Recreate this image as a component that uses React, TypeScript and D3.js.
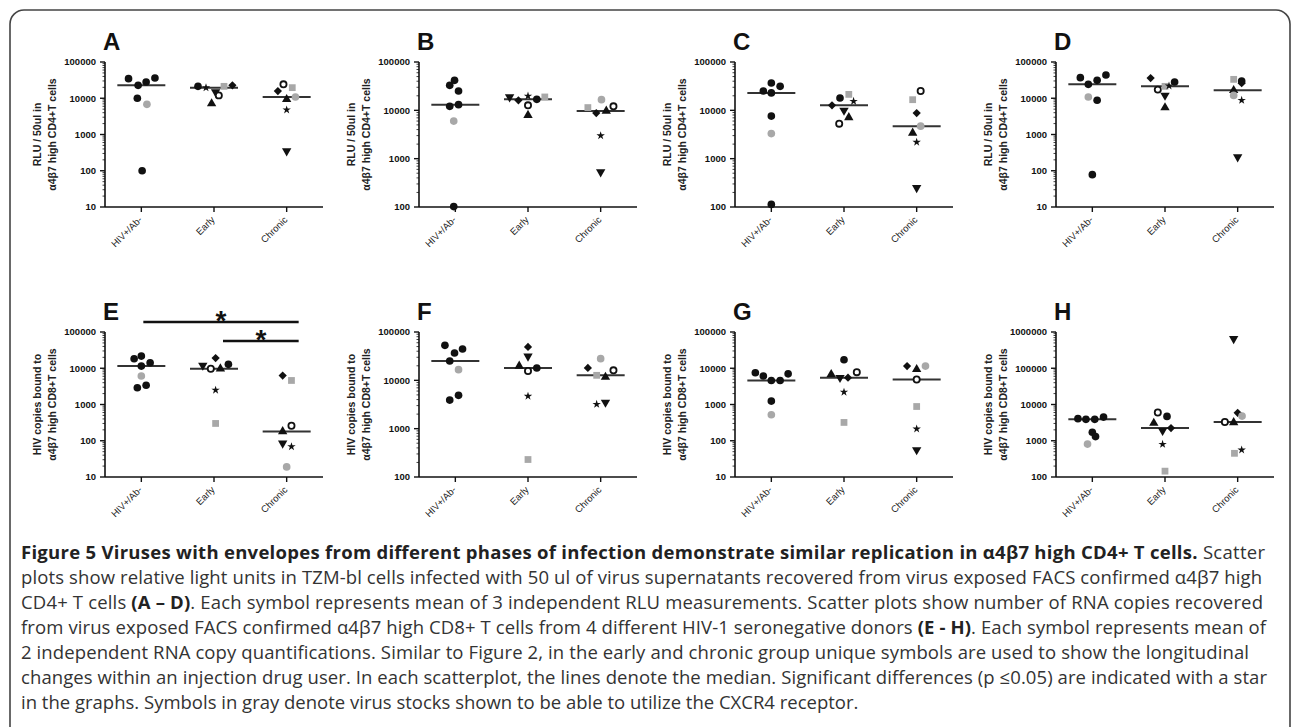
import * as React from 'react';
import * as d3 from 'd3';

const groups = ['HIV+/Ab-', 'Early', 'Chronic'];

// [group index, symbol, value, horizontal slot within the group]
type Pt = [number, string, number, number];

const ptsA: Pt[] = [
  [0, 'c', 34700, -1.6], [0, 'c', 22700, -0.4], [0, 'c', 28000, 0.6], [0, 'c', 36200, 1.7], [0, 'c', 10000, -0.5], [0, 'gc', 6800, 0.7], [0, 'c', 100, 0.1],
  [1, 'c', 21300, -2], [1, 'st', 19500, -1], [1, 'td', 14900, 0.2], [1, 'oc', 12000, 0.6], [1, 'gs', 21300, 1.25], [1, 'dm', 22700, 2.3], [1, 'tu', 7100, -0.3],
  [2, 'dm', 15800, -1.1], [2, 'oc', 24200, -0.4], [2, 'gs', 19600, 0.7], [2, 'tu', 9300, 0], [2, 'gc', 10800, 1.1], [2, 'st', 4800, 0], [2, 'td', 350, 0],
];
const ptsB: Pt[] = [
  [0, 'c', 41800, -0.1], [0, 'c', 32900, -0.7], [0, 'c', 25100, 0.4], [0, 'c', 12100, -0.7], [0, 'c', 13100, 0.4], [0, 'gc', 6000, -0.2], [0, 'c', 102, -0.2],
  [1, 'td', 18900, -2.3], [1, 'dm', 16100, -1.2], [1, 'st', 19800, 0], [1, 'c', 16900, 1.1], [1, 'gs', 18900, 2.1], [1, 'oc', 12700, 0], [1, 'tu', 7900, 0],
  [2, 'gs', 11400, -1.6], [2, 'dm', 8800, -0.55], [2, 'gc', 16600, 0.1], [2, 'tu', 9700, 0.7], [2, 'oc', 12100, 1.6], [2, 'st', 3000, 0], [2, 'td', 530, 0],
];
const ptsC: Pt[] = [
  [0, 'c', 25100, -1], [0, 'c', 36800, 0], [0, 'c', 31400, 1.1], [0, 'c', 22900, 0], [0, 'c', 7600, 0], [0, 'gc', 3300, 0], [0, 'c', 113, 0],
  [1, 'c', 18000, -0.5], [1, 'dm', 12700, -1.5], [1, 'gs', 21400, 0.6], [1, 'st', 15400, 1.2], [1, 'td', 10000, 0], [1, 'oc', 5300, -0.6], [1, 'tu', 7100, 0.6],
  [2, 'oc', 25100, 0.5], [2, 'gs', 16600, -0.5], [2, 'dm', 8800, 0], [2, 'gc', 4700, 0.5], [2, 'tu', 3400, -0.5], [2, 'st', 2200, 0], [2, 'td', 250, 0],
];
const ptsD: Pt[] = [
  [0, 'c', 37000, -1.5], [0, 'c', 24200, -0.5], [0, 'c', 31200, 0.6], [0, 'c', 43800, 1.7], [0, 'gc', 10800, -0.5], [0, 'c', 8800, 0.6], [0, 'c', 78, 0],
  [1, 'dm', 36100, -1.8], [1, 'oc', 17300, -0.9], [1, 'gs', 21300, 0], [1, 'st', 22000, 0.5], [1, 'c', 28000, 1.2], [1, 'td', 12000, 0], [1, 'tu', 5500, 0],
  [2, 'gs', 33200, -0.5], [2, 'c', 30000, 0.5], [2, 'dm', 26000, 0.5], [2, 'tu', 16500, -0.5], [2, 'gc', 12000, -0.5], [2, 'st', 8800, 0.5], [2, 'td', 240, 0],
];
const ptsE: Pt[] = [
  [0, 'c', 18300, -0.9], [0, 'c', 21700, 0], [0, 'c', 14200, 1.1], [0, 'c', 11500, 0], [0, 'gc', 6100, 0], [0, 'c', 2900, -0.5], [0, 'c', 3400, 0.6],
  [1, 'td', 12000, -1.4], [1, 'oc', 9700, -0.4], [1, 'dm', 19100, 0.2], [1, 'tu', 9700, 0.8], [1, 'c', 12800, 1.8], [1, 'st', 2500, 0.2], [1, 'gs', 300, 0.2],
  [2, 'dm', 6300, -0.5], [2, 'gs', 4600, 0.6], [2, 'tu', 180, -0.5], [2, 'oc', 260, 0.6], [2, 'td', 85, -0.5], [2, 'st', 69, 0.6], [2, 'gc', 19, 0],
];
const ptsF: Pt[] = [
  [0, 'c', 53000, -1.3], [0, 'c', 36800, -0.1], [0, 'c', 44500, 0.9], [0, 'c', 25100, -0.7], [0, 'gc', 16600, 0.4], [0, 'c', 3900, -0.7], [0, 'c', 4900, 0.4],
  [1, 'dm', 49000, 0], [1, 'td', 31400, 0], [1, 'tu', 19800, -1.1], [1, 'oc', 15600, 0], [1, 'c', 18000, 1.1], [1, 'st', 4700, 0], [1, 'gs', 230, 0],
  [2, 'dm', 18000, -1.6], [2, 'gc', 28100, 0], [2, 'gs', 12700, -0.5], [2, 'tu', 11700, 0.6], [2, 'oc', 16100, 1.6], [2, 'st', 3200, -0.5], [2, 'td', 3500, 0.6],
];
const ptsG: Pt[] = [
  [0, 'c', 7500, -2], [0, 'c', 6100, -1], [0, 'c', 4600, 0], [0, 'c', 4600, 1.1], [0, 'c', 7000, 2.1], [0, 'c', 1240, 0], [0, 'gc', 520, 0],
  [1, 'c', 17200, 0], [1, 'tu', 6800, -1.6], [1, 'td', 5500, -0.5], [1, 'dm', 5500, 0.5], [1, 'oc', 7800, 1.6], [1, 'st', 2200, 0], [1, 'gs', 320, 0],
  [2, 'dm', 11500, -1.2], [2, 'tu', 9300, 0], [2, 'gc', 11500, 1.1], [2, 'oc', 4900, 0], [2, 'gs', 880, 0], [2, 'st', 212, 0], [2, 'td', 56, 0],
];
const ptsH: Pt[] = [
  [0, 'c', 4070, -1.8], [0, 'c', 3900, -0.8], [0, 'c', 3900, 0.3], [0, 'c', 4500, 1.4], [0, 'c', 1720, 0], [0, 'c', 1300, 0.4], [0, 'gc', 810, -0.6],
  [1, 'oc', 6000, -0.9], [1, 'c', 4700, 0.25], [1, 'tu', 3080, -1.4], [1, 'td', 1900, -0.3], [1, 'dm', 2230, 0.75], [1, 'st', 800, -0.3], [1, 'gs', 145, 0],
  [2, 'dm', 5880, 0], [2, 'gc', 4800, 0.55], [2, 'oc', 3280, -1.6], [2, 'tu', 3200, -0.5], [2, 'td', 650000, -0.5], [2, 'gs', 450, -0.4], [2, 'st', 560, 0.5],
];

const ticks10 = [10, 100, 1000, 10000, 100000];
const ticks100 = [100, 1000, 10000, 100000];
const ticksH = [100, 1000, 10000, 100000, 1000000];

const labelRLU = ['RLU / 50ul in', 'α4β7 high CD4+T cells'];
const labelCD8 = ['HIV copies bound to', 'α4β7 high CD8+T cells'];

// significance bars in panel E: [from group, to group]
const sigE: [string, string][] = [['HIV+/Ab-', 'Chronic'], ['Early', 'Chronic']];

type Seg = [string, boolean];
const caption: Seg[][] = [
  [['Figure 5 Viruses with envelopes from different phases of infection demonstrate similar replication in α4β7 high CD4+ T cells.', true], [' Scatter', false]],
  [['plots show relative light units in TZM-bl cells infected with 50 ul of virus supernatants recovered from virus exposed FACS confirmed α4β7 high', false]],
  [['CD4+ T cells ', false], ['(A – D)', true], ['. Each symbol represents mean of 3 independent RLU measurements. Scatter plots show number of RNA copies recovered', false]],
  [['from virus exposed FACS confirmed α4β7 high CD8+ T cells from 4 different HIV-1 seronegative donors ', false], ['(E - H)', true], ['. Each symbol represents mean of', false]],
  [['2 independent RNA copy quantifications. Similar to Figure 2, in the early and chronic group unique symbols are used to show the longitudinal', false]],
  [['changes within an injection drug user. In each scatterplot, the lines denote the median. Significant differences (p ≤0.05) are indicated with a star', false]],
  [['in the graphs. Symbols in gray denote virus stocks shown to be able to utilize the CXCR4 receptor.', false]],
];
// right ends of the full caption lines (the last line is left ragged)
const captionEnds = [1265, 1262, 1263, 1266, 1249, 1267, 0];

const panels = [
  { letter: 'A', pts: ptsA, ticks: ticks10, label: labelRLU, col: 0, row: 0 },
  { letter: 'B', pts: ptsB, ticks: ticks100, label: labelRLU, col: 1, row: 0 },
  { letter: 'C', pts: ptsC, ticks: ticks100, label: labelRLU, col: 2, row: 0 },
  { letter: 'D', pts: ptsD, ticks: ticks10, label: labelRLU, col: 3, row: 0 },
  { letter: 'E', pts: ptsE, ticks: ticks10, label: labelCD8, col: 0, row: 1, sig: sigE },
  { letter: 'F', pts: ptsF, ticks: ticks100, label: labelCD8, col: 1, row: 1 },
  { letter: 'G', pts: ptsG, ticks: ticks10, label: labelCD8, col: 2, row: 1 },
  { letter: 'H', pts: ptsH, ticks: ticksH, label: labelCD8, col: 3, row: 1 },
];

const colX = [105, 419, 735, 1056];
const rowY = [62, 332];
const plotW = 218;
const plotH = 145;
const slot = 8;
const BLACK = '#111';
const GRAY = '#a8a8a8';
const chartFont = '"Liberation Sans", Arial, sans-serif';

const symbolPath = (k: string) => {
  const s = d3.symbol();
  if (k === 'c' || k === 'gc') return s.type(d3.symbolCircle).size(46)();
  if (k === 'oc') return s.type(d3.symbolCircle).size(30)();
  if (k === 'gs') return s.type(d3.symbolSquare).size(46)();
  if (k === 'tu' || k === 'td') return s.type(d3.symbolTriangle).size(38)();
  if (k === 'dm') return s.type(d3.symbolSquare).size(34)();
  return s.type(d3.symbolStar).size(22)();
};

const Mark = ({ k, x, y }: { k: string; x: number; y: number }) => {
  const rot = k === 'td' ? 180 : k === 'dm' ? 45 : 0;
  const gray = k === 'gc' || k === 'gs';
  const open = k === 'oc';
  return (
    <path
      d={symbolPath(k) || ''}
      transform={`translate(${x},${y}) rotate(${rot})`}
      fill={open ? '#fff' : gray ? GRAY : BLACK}
      stroke={open ? BLACK : 'none'}
      strokeWidth={open ? 1.8 : 0}
    />
  );
};

const Panel = ({ p }: { p: (typeof panels)[number] }) => {
  const x0 = colX[p.col];
  const y0 = rowY[p.row];
  const dom = d3.extent(p.ticks) as [number, number];
  const y = d3.scaleLog().domain(dom).range([plotH, 0]);
  const x = d3.scalePoint<string>().domain(groups).range([0, plotW]).padding(0.5);
  const minor: number[] = [];
  for (let d = dom[0]; d < dom[1]; d *= 10) for (let m = 2; m < 10; m++) minor.push(d * m);

  return (
    <g transform={`translate(${x0},${y0})`} fontFamily={chartFont}>
      <text x={-2} y={-12} fontSize={24} fontWeight="bold" fill={BLACK}>{p.letter}</text>
      {/* y axis */}
      <line x1={0} x2={0} y1={0} y2={plotH} stroke={BLACK} strokeWidth={1.6} />
      {p.ticks.map((t) => (
        <g key={t} transform={`translate(0,${y(t)})`}>
          <line x1={-5} x2={0} stroke={BLACK} strokeWidth={1.4} />
          <text x={-9} dy="0.35em" textAnchor="end" fontSize={9.5} fontWeight="bold" fill={BLACK}>{t}</text>
        </g>
      ))}
      {minor.map((t) => (
        <line key={t} x1={-2.5} x2={0} y1={y(t)} y2={y(t)} stroke={BLACK} strokeWidth={0.8} />
      ))}
      <g transform={`translate(-60,${plotH / 2}) rotate(-90)`} fontSize={10.5} fontWeight="bold" fill="#222" textAnchor="middle">
        <text y={-4}>{p.label[0]}</text>
        <text y={11}>{p.label[1]}</text>
      </g>
      {/* x axis */}
      <line x1={0} x2={plotW} y1={plotH} y2={plotH} stroke={BLACK} strokeWidth={1.6} />
      {groups.map((g) => (
        <g key={g}>
          <line x1={x(g)} x2={x(g)} y1={plotH} y2={plotH + 5} stroke={BLACK} strokeWidth={1.4} />
          <text
            transform={`translate(${(x(g) as number) - 1},${plotH + 11}) rotate(-45)`}
            textAnchor="end"
            dy="0.35em"
            fontSize={9.5}
            fill="#222"
          >{g}</text>
        </g>
      ))}
      {/* medians */}
      {groups.map((g, gi) => {
        const med = d3.median(p.pts.filter((d) => d[0] === gi), (d) => d[2]) as number;
        const cx = x(g) as number;
        return <line key={g} x1={cx - 24} x2={cx + 24} y1={y(med)} y2={y(med)} stroke="#333" strokeWidth={2} />;
      })}
      {p.pts.map((d, i) => (
        <Mark key={i} k={d[1]} x={(x(groups[d[0]]) as number) + d[3] * slot} y={y(d[2])} />
      ))}
      {p.sig && p.sig.map((s, i) => {
        const a = (x(s[0]) as number) + (i === 0 ? 2 : 9);
        const b = (x(s[1]) as number) + 12;
        const by = i === 0 ? -10 : 9;
        return (
          <g key={i}>
            <line x1={a} x2={b} y1={by} y2={by} stroke={BLACK} strokeWidth={2.4} />
            <text x={(a + b) / 2} y={by + 8} textAnchor="middle" fontSize={28} fontWeight="bold" fill={BLACK}>*</text>
          </g>
        );
      })}
    </g>
  );
};

export default function App() {
  return (
    <svg
      width={1292}
      height={727}
      style={{ position: 'absolute', left: 0, top: 0, background: '#fff' }}
    >
      <rect x={0} y={0} width={1292} height={727} fill="#fff" />
      <rect x={10} y={10} width={1280} height={760} rx={14} fill="none" stroke="#444" strokeWidth={1.6} />
      {panels.map((p) => <Panel key={p.letter} p={p} />)}
      <g fontFamily='"Open Sans", "Noto Sans", sans-serif' fontSize={18.5}>
        {caption.map((line, i) => (
          <text
            key={i}
            x={21}
            y={559 + i * 25}
            textLength={captionEnds[i] ? captionEnds[i] - 21 : undefined}
            lengthAdjust={captionEnds[i] ? 'spacing' : undefined}
            fill="#333"
          >
            {line.map((s, j) => (
              <tspan key={j} fontWeight={s[1] ? 'bold' : 'normal'} fill={s[1] ? '#222' : '#333'}>{s[0]}</tspan>
            ))}
          </text>
        ))}
      </g>
    </svg>
  );
}
